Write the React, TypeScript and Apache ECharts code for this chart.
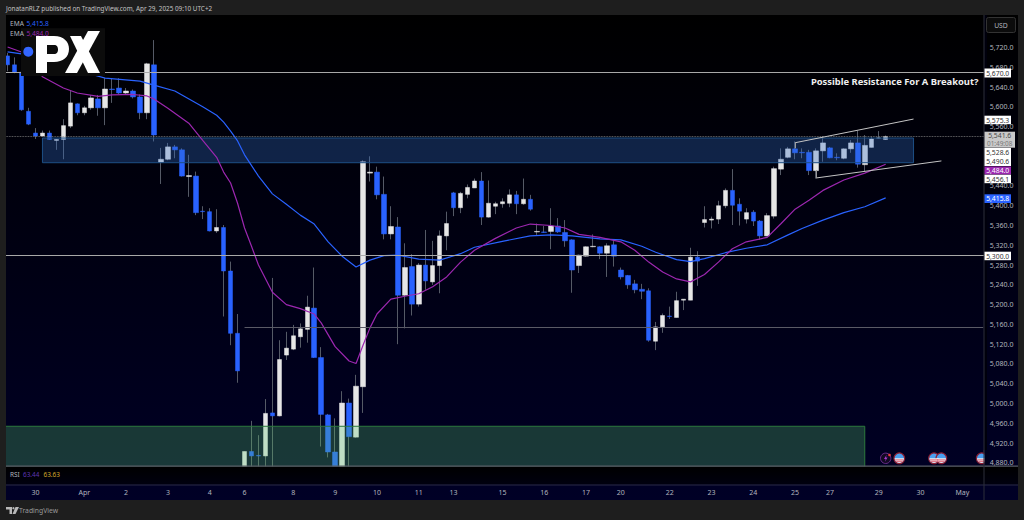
import React, { useEffect, useRef } from "react";
import * as echarts from "echarts";

const FONT = '"Noto Sans", sans-serif';

// [open, close, low, high]
const candles: number[][] = [
  [5703,5685,5672,5709],[5685,5670,5668,5700],[5670,5594,5592,5672],[5591,5565,5563,5598],[5547,5541,5535,5557],
  [5541,5547,5540,5552],[5547,5534,5533,5552],[5532,5534,5513,5535],[5534,5562,5494,5575],[5561,5608,5557,5634],
  [5606,5588,5583,5607],[5588,5598,5583,5602],[5598,5618,5594,5624],[5616,5598,5582,5624],[5598,5636,5563,5658],
  [5636,5635,5608,5658],[5638,5628,5626,5658],[5628,5632,5624,5638],[5632,5620,5617,5635],[5620,5588,5575,5625],
  [5588,5687,5575,5689],[5685,5543,5530,5735],[5488,5494,5444,5517],[5494,5519,5492,5527],[5519,5513,5496,5523],
  [5513,5460,5459,5516],[5459,5461,5418,5503],[5460,5386,5381,5469],[5389,5388,5373,5399],[5388,5349,5348,5395],
  [5349,5356,5345,5393],[5356,5268,5176,5361],[5268,5142,5118,5287],[5142,5066,5042,5181],[4860,4903,4845,4903],
  [4903,4894,4850,4965],[4895,4894,4850,4936],[4894,4980,4850,5009],[4981,4975,4850,5254],[4975,5089,4974,5128],
  [5098,5112,5088,5145],[5110,5137,5108,5159],[5135,5151,5113,5162],[5150,5195,5123,5218],[5193,5093,5092,5275],
  [5093,4978,4913,5114],[4977,4902,4891,4979],[4902,4855,4850,4970],[4860,5001,4850,5025],[5001,4933,4850,5010],
  [4932,5035,4931,5058],[5034,5489,4981,5492],[5466,5468,5449,5500],[5468,5422,5413,5479],[5423,5343,5332,5459],
  [5343,5358,5332,5399],[5357,5219,5120,5377],[5219,5275,5152,5324],[5277,5201,5178,5302],[5201,5280,5196,5284],
  [5280,5248,5230,5351],[5246,5279,5240,5329],[5279,5339,5223,5350],[5339,5364,5310,5388],[5426,5396,5379,5428],
  [5396,5425,5385,5428],[5423,5437,5415,5443],[5436,5450,5436,5455],[5450,5377,5361,5468],[5377,5405,5376,5451],
  [5399,5404,5383,5408],[5404,5408,5396,5415],[5405,5422,5397,5433],[5422,5404,5383,5430],[5404,5413,5402,5455],
  [5413,5393,5390,5422],[5347,5348,5341,5364],[5347,5346,5345,5359],[5348,5359,5312,5395],[5359,5347,5345,5375],
  [5346,5329,5317,5371],[5331,5270,5224,5332],[5279,5300,5264,5301],[5298,5317,5297,5318],[5317,5318,5316,5342],
  [5317,5304,5292,5318],[5304,5319,5256,5324],[5321,5298,5277,5331],[5270,5256,5251,5275],[5259,5240,5232,5260],
  [5242,5230,5223,5250],[5231,5227,5211,5242],[5228,5128,5125,5233],[5126,5155,5108,5165],[5155,5178,5143,5182],
  [5177,5176,5171,5196],[5174,5208,5174,5226],[5209,5211,5189,5211],[5209,5296,5209,5315],[5296,5288,5238,5308],
  [5366,5372,5356,5399],[5371,5373,5354,5378],[5373,5400,5363,5410],[5400,5431,5395,5435],[5431,5401,5361,5474],
  [5403,5389,5360,5415],[5373,5386,5364,5395],[5387,5369,5359,5391],[5369,5339,5331,5371],[5339,5380,5338,5385],
  [5379,5475,5374,5479],[5474,5494,5462,5516],[5498,5515,5496,5519],[5515,5507,5494,5530],[5508,5507,5496,5516],
  [5508,5471,5462,5513],[5471,5511,5455,5516],[5511,5527,5489,5541],[5517,5497,5496,5519],[5498,5497,5492,5506],
  [5496,5515,5494,5516],[5515,5527,5507,5533],[5527,5484,5477,5552],[5483,5522,5469,5543],[5518,5535,5518,5540],
  [5537,5537,5536,5551],[5534,5540,5533,5542],
];

const timeLabels: Record<number, string> = {
  4:"30",11:"Apr",17:"2",23:"3",29:"4",34:"6",41:"8",47:"9",53:"10",59:"11",64:"13",71:"15",77:"16",83:"17",
  88:"20",95:"22",101:"23",107:"24",113:"25",118:"27",125:"29",131:"30",137:"May",
};
const SLOT_COUNT = 141;

const emaBlueIdx = [0,2,4,8,11,14,19,21,24,28,30,31,32,33,34,36,38,40,42,44,46,48,50,52,54,56,59,62,65,67,71,75,78,81,85,88,91,93,96,98,100,103,106,109,112,114,117,120,123,126];
const emaBlueVal = [5711,5707,5699,5682,5670,5658,5652,5644,5632,5600,5583,5569,5551,5531,5503,5460,5424,5403,5381,5363,5327,5298,5276,5290,5299,5300,5292,5290,5303,5316,5328,5339,5341,5339,5333,5331,5318,5306,5291,5287,5293,5305,5314,5321,5341,5354,5371,5386,5398,5415.8];
const emaPurpleIdx = [0,2,5,8,10,13,15,18,20,21,23,26,28,30,31,32,33,34,35,36,38,40,42,44,45,47,49,50,51,52,53,55,57,59,61,63,65,67,70,73,75,78,80,82,85,88,90,92,94,96,98,100,102,104,106,109,111,113,115,117,120,123,126];
const emaPurpleVal = [5721,5711,5661,5638,5628,5621,5624,5625,5622,5616,5597,5567,5532,5498,5468,5446,5405,5355,5318,5280,5225,5200,5192,5181,5163,5115,5086,5081,5118,5153,5181,5211,5217,5222,5236,5256,5286,5310,5334,5355,5363,5360,5355,5342,5336,5327,5310,5286,5266,5252,5246,5261,5286,5313,5327,5336,5364,5393,5411,5431,5452,5466,5484];

const levelLines = [5670, 5300];
const shortLevel = { from: 34, to: 140, price: 5155 };
const lastPrice = 5540.4;
const channelUpper = [[113,5527.4],[130,5575.3]];
const channelLower = [[116,5456.1],[134,5490.6]];
const channelTicks = [[113,5527.4,5516],[116,5456.1,5472]];
const blueZone = { from: 5, to: 130, top: 5537, bottom: 5487 };
const greenZone = { to: 123, top: 4954, bottom: 4840 };

const priceFlags = [
  { text: "5,670.0", top: 68.5, h: 9, bg: "#ffffff", fg: "#333" },
  { text: "5,575.3", top: 115.7, h: 8.5, bg: "#ffffff", fg: "#333" },
  { text: "5,528.6", top: 148, h: 9, bg: "#ffffff", fg: "#333" },
  { text: "5,490.6", top: 157, h: 9, bg: "#ffffff", fg: "#333" },
  { text: "5,484.0", top: 166.5, h: 8, bg: "#9c27b0", fg: "#fff" },
  { text: "5,456.1", top: 174.7, h: 8.5, bg: "#ffffff", fg: "#333" },
  { text: "5,415.8", top: 194.3, h: 8.7, bg: "#2962ff", fg: "#fff" },
  { text: "5,300.0", top: 251.7, h: 8.5, bg: "#ffffff", fg: "#333" },
];
const flagIcons = [899.3, 934, 941.3, 981.7];

const fmtPrice = (v: number) => {
  if ([4840, 5760, 5800, 5520, 5480].includes(v)) return "";
  return v.toLocaleString("en-US", { minimumFractionDigits: 1, maximumFractionDigits: 1 });
};

const txt = (x: number, y: number, text: string, fill: string, size = 7, z = 200, weight: any = "normal", align = "left") => ({
  type: "text", z, silent: true,
  style: { x, y, text, fill, fontSize: size, fontFamily: FONT, fontWeight: weight, align, verticalAlign: "middle" },
});
const rect = (x: number, y: number, w: number, h: number, fill: any, z = 100, extra: any = {}) => ({
  type: "rect", z, silent: true, shape: { x, y, width: w, height: h, ...(extra.shape || {}) },
  style: { fill, ...(extra.style || {}) },
});

const flag = (cx: number) => {
  const cy = 458.3;
  return [
    { type: "circle", z: 150, silent: true, shape: { cx, cy, r: 5.3 }, style: { fill: "#4a9fef", stroke: "#8c1f33", lineWidth: 1.2 } },
    { type: "sector", z: 151, silent: true, shape: { cx, cy, r: 4.7, r0: 0, startAngle: 0, endAngle: Math.PI }, style: { fill: "#f3eef0" } },
    rect(cx - 4.2, cy + 1.2, 8.4, 0.9, "#d9485f", 152),
    rect(cx - 3.2, cy + 3, 6.4, 0.8, "#d9485f", 152),
  ];
};

export default function App() {
  const ref = useRef<HTMLDivElement>(null);
  useEffect(() => {
    if (!ref.current) return;
    echarts.graphic.registerShape(
      "pxP",
      echarts.graphic.extendPath(
        "M36 36H54C64 36 69 42 69 49C69 57 63 62 54 62H47V73H36ZM47 45V54H54C57 54 58 52 58 49.5C58 47 57 45 54 45Z",
        {},
      ),
    );
    const chart = echarts.init(ref.current, undefined, { renderer: "svg" });
    const categories = Array.from({ length: SLOT_COUNT }, (_, i) => timeLabels[i] ?? "");
    const bodies = candles.map(([o, c]) => [o, c, Math.min(o, c), Math.max(o, c)]);

    const lineSeg = (a: number[], b: number[]) => [{ coord: a }, { coord: b }];
    const panelFill = new echarts.graphic.LinearGradient(0, 0, 0, 1, [
      { offset: 0, color: "#000000" },
      { offset: 1, color: "#000026" },
    ]);
    const rsiFill = new echarts.graphic.LinearGradient(0, 0, 0, 1, [
      { offset: 0, color: "#000000" },
      { offset: 1, color: "#00000f" },
    ]);

    const graphics: any[] = [
      rect(6, 15, 1012, 485, panelFill, 0),
      // frame
      rect(0, 0, 1024, 15, "#1e1e1e"),
      rect(0, 0, 6, 520, "#1e1e1e"),
      rect(1018, 0, 6, 520, "#1e1e1e"),
      rect(0, 500, 1024, 20, "#1e1e1e"),
      // RSI pane
      rect(6, 466.5, 1012, 18, rsiFill),
      rect(6, 465.5, 1012, 1.2, "#5a5f66", 110),
      rect(6, 484.5, 1012, 1, "#2a2a44", 110),
      // logo
      rect(21, 28.3, 84, 47.7, "#0c0c0c", 120),
      { type: "circle", z: 121, silent: true, shape: { cx: 28.3, cy: 51.7, r: 5 }, style: { fill: "#3366ff" } },
      { type: "pxP", z: 121, silent: true, x: 0, y: 0, style: { fill: "#ffffff" } },
      { type: "polygon", z: 121, silent: true, shape: { points: [[88,31],[100,31],[77,73],[65,73]] }, style: { fill: "#ffffff" } },
      { type: "polygon", z: 121, silent: true, shape: { points: [[70,36],[81,36],[100,73],[88,73]] }, style: { fill: "#ffffff" } },
      // header / footer
      txt(6, 8, "JonatanRLZ published on TradingView.com, Apr 29, 2025 09:10 UTC+2", "#c4c4c4", 6.35),
      { type: "polygon", z: 200, silent: true, shape: { points: [[6,507],[12,507],[12,514],[9.5,514],[9.5,509.5],[6,509.5]] }, style: { fill: "#b8b8b8" } },
      { type: "circle", z: 200, silent: true, shape: { cx: 13.4, cy: 508.2, r: 1.1 }, style: { fill: "#b8b8b8" } },
      { type: "polygon", z: 200, silent: true, shape: { points: [[15.5,507],[19,507],[15.5,514],[12.5,514]] }, style: { fill: "#b8b8b8" } },
      txt(19, 510.5, "TradingView", "#9a9a9a", 6.8),
      // legend
      txt(10, 23, "EMA", "#b2b5be", 6.6),
      txt(26.5, 23, "5,415.8", "#2962ff", 6.6),
      txt(10, 33, "EMA", "#b2b5be", 6.6),
      txt(26.5, 33, "5,484.0", "#9c27b0", 6.6),
      // RSI
      txt(10, 474.5, "RSI", "#b2b5be", 6.4),
      txt(23, 474.5, "63.44", "#5e35b1", 6.4),
      txt(43.5, 474.5, "63.63", "#d4a82a", 6.4),
      // annotation
      txt(978.5, 81, "Possible Resistance For A Breakout?", "#f0f0f0", 9.4, 130, "bold", "right"),
      // price scale separator
      rect(984, 15, 3, 450, "#00000c", 90),
      rect(983.5, 15, 1, 485, "#2c2f3a", 110),
      // USD
      { type: "rect", z: 200, silent: true, shape: { x: 986.5, y: 17.5, width: 29, height: 15, r: 2 }, style: { fill: "#0c0c0c", stroke: "#333" } },
      txt(1001, 25, "USD", "#b2b5be", 6.8, 201, "normal", "center"),
      // last price
      rect(984.5, 131.7, 30.5, 16, "#c9c9c9", 190),
      txt(999.7, 135.8, "5,541.6", "#4a4a4a", 6.8, 191, "normal", "center"),
      txt(999.7, 143.6, "01:49:08", "#777", 6.4, 191, "normal", "center"),
      // events
      { type: "circle", z: 150, silent: true, shape: { cx: 885.7, cy: 458.3, r: 5.2 }, style: { fill: "#120a22", stroke: "#6a2a8a", lineWidth: 1 } },
      { type: "polygon", z: 151, silent: true, shape: { points: [[886.7,454.8],[884,459],[885.7,459],[884.9,461.8],[887.6,457.6],[885.9,457.6]] }, style: { fill: "#a53ad0" } },
      { type: "circle", z: 152, silent: true, shape: { cx: 889.5, cy: 455, r: 1.3 }, style: { fill: "#ef3b3b" } },
      ...flagIcons.flatMap(flag),
      rect(984.5, 450, 5, 15, "#00001c", 160),
      rect(983.5, 450, 1, 16, "#2c2f3a", 161),
    ];
    priceFlags.forEach((f) => {
      graphics.push(rect(984.5, f.top, 26.5, f.h, f.bg, 190));
      graphics.push(txt(997.7, f.top + f.h / 2 + 0.2, f.text, f.fg, 6.8, 191, "normal", "center"));
    });

    chart.setOption({
      animation: false,
      backgroundColor: "#1e1e1e",
      textStyle: { fontFamily: FONT },
      graphic: { elements: graphics },
      grid: { left: 4.115, width: 982.6, top: 7.94, height: 474.7, containLabel: false },
      xAxis: {
        type: "category",
        data: categories,
        z: 3,
        boundaryGap: true,
        axisLine: { show: false },
        axisTick: { show: false },
        splitLine: { show: false },
        axisLabel: { interval: 0, color: "#b2b5be", fontSize: 7, margin: 6.5, fontFamily: FONT, hideOverlap: false },
      },
      yAxis: {
        type: "value",
        position: "right",
        min: 4840,
        max: 5800,
        interval: 40,
        z: 3,
        axisLine: { show: false },
        axisTick: { show: false },
        splitLine: { show: false },
        axisLabel: { color: "#b2b5be", fontSize: 7, margin: 3, fontFamily: FONT, formatter: fmtPrice },
      },
      series: [
        {
          type: "candlestick",
          name: "wick",
          z: 2,
          barWidth: 1,
          data: candles,
          itemStyle: { color: "#555a66", color0: "#555a66", borderColor: "#555a66", borderColor0: "#555a66", borderWidth: 1 },
        },
        {
          type: "candlestick",
          name: "body",
          z: 3,
          barWidth: 5,
          data: bodies,
          itemStyle: { color: "#e6e6e6", color0: "#2962ff", borderColor: "#e6e6e6", borderColor0: "#2962ff", borderWidth: 0.5 },
        },
        {
          type: "line",
          name: "EMA slow",
          z: 5,
          symbol: "none",
          data: emaBlueIdx.map((x, i) => [x, emaBlueVal[i]]),
          lineStyle: { color: "#2962ff", width: 1.2 },
          markArea: {
            silent: true,
            z: 4,
            data: [
              [
                { coord: [blueZone.from, blueZone.top], itemStyle: { color: "rgba(50,110,200,0.32)", borderColor: "#1d4f85", borderWidth: 1 } },
                { coord: [blueZone.to, blueZone.bottom] },
              ],
              [
                { yAxis: greenZone.top, itemStyle: { color: "rgba(90,200,110,0.28)", borderColor: "#2c7a3c", borderWidth: 1 } },
                { xAxis: greenZone.to, yAxis: greenZone.bottom },
              ],
            ],
          },
        },
        {
          type: "line",
          name: "EMA fast",
          z: 5,
          symbol: "none",
          data: emaPurpleIdx.map((x, i) => [x, emaPurpleVal[i]]),
          lineStyle: { color: "#9c27b0", width: 1.2 },
          markLine: {
            silent: true,
            symbol: "none",
            z: 6,
            label: { show: false },
            data: [
              ...levelLines.map((v) => ({ yAxis: v, lineStyle: { color: "#a8a8a8", width: 1.2, type: "solid" } })),
              { yAxis: lastPrice, lineStyle: { color: "#8a8a8a", width: 0.8, type: "dotted" } },
              [
                { coord: [shortLevel.from, shortLevel.price], lineStyle: { color: "#5a5a66", width: 1.2, type: "solid" } },
                { coord: [shortLevel.to, shortLevel.price] },
              ],
              ...[channelUpper, channelLower].map(([a, b]) => {
                const seg: any[] = lineSeg(a, b);
                seg[0].lineStyle = { color: "#c4c4c4", width: 1, type: "solid" };
                return seg;
              }),
              ...channelTicks.map(([x, p1, p2]) => {
                const seg: any[] = lineSeg([x, p1], [x, p2]);
                seg[0].lineStyle = { color: "#9a9a9a", width: 1, type: "solid" };
                return seg;
              }),
            ],
          },
        },
      ],
    });
    return () => chart.dispose();
  }, []);
  return <div ref={ref} style={{ position: "absolute", left: 0, top: 0, width: 1024, height: 520 }} />;
}
